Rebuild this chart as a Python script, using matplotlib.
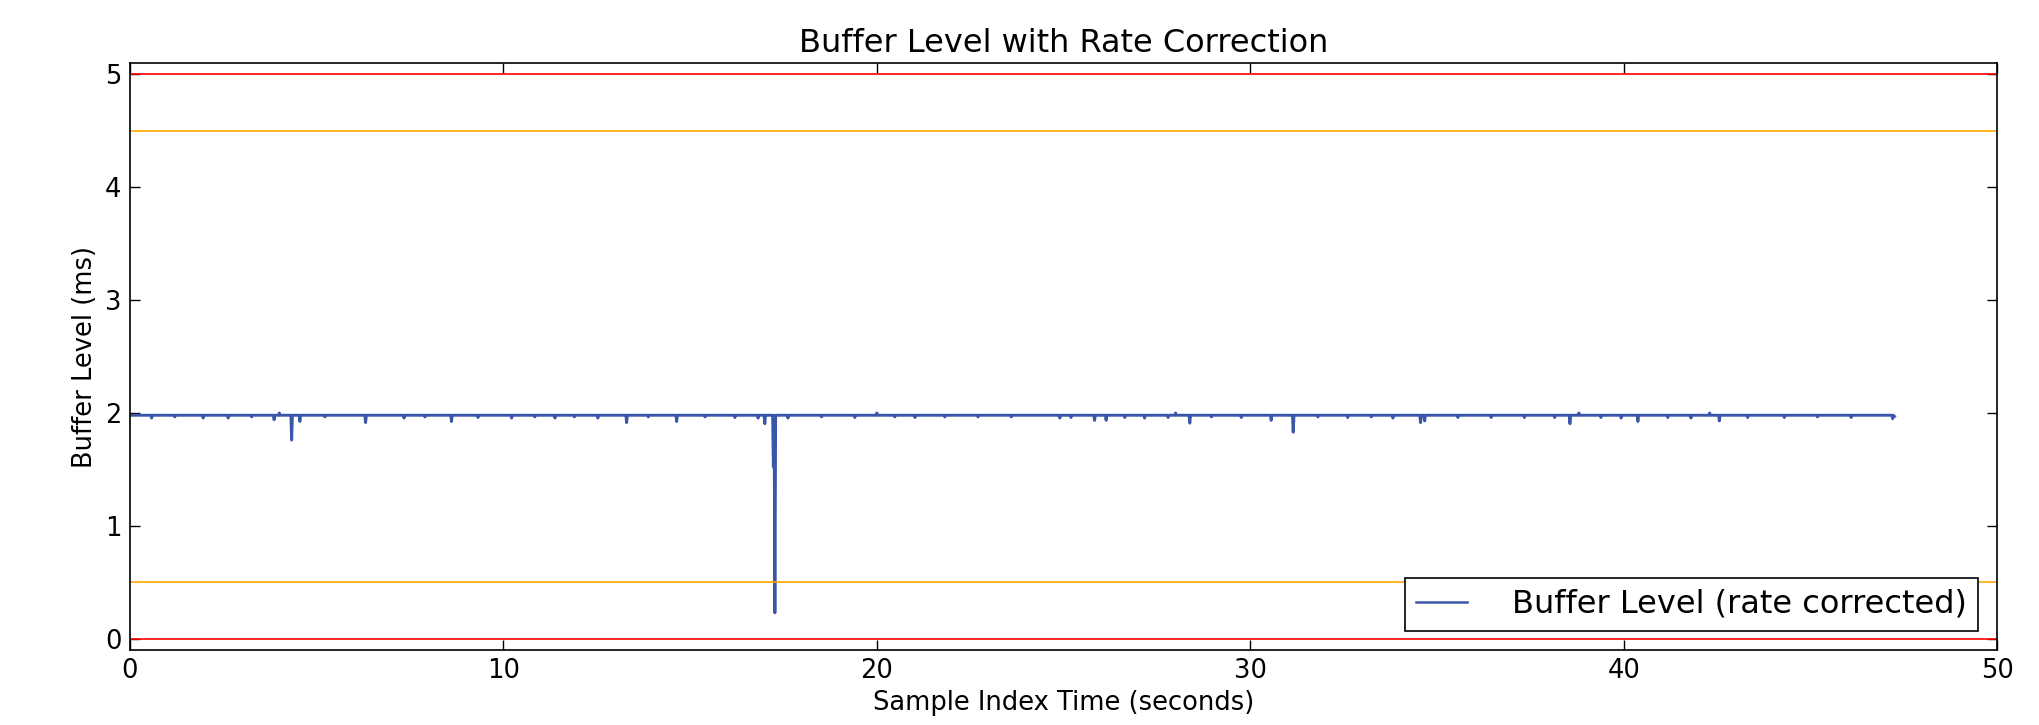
import matplotlib
matplotlib.use('Agg')
import matplotlib.pyplot as plt

# buffer level data (ms)
base_ms = 1.98
t_end = 47.25

# sample times (s) where the level leaves the base level, and the value there
spike_t = [0.58, 1.20, 1.96, 2.63, 3.26, 3.86, 4.00, 4.33, 4.55, 5.22,
           6.31, 7.34, 7.90, 8.61, 9.32, 10.22, 10.84, 11.38, 11.90, 12.53,
           13.30, 13.88, 14.64, 15.40, 16.20, 16.82, 17.00, 17.23, 17.27, 17.62,
           18.52, 19.41, 20.00, 20.48, 21.02, 21.82, 22.71, 23.60, 24.90, 25.20,
           25.83, 26.14, 26.64, 27.17, 27.80, 28.00, 28.38, 28.96, 29.76, 30.56,
           31.15, 31.81, 32.61, 33.24, 33.82, 34.56, 34.67, 35.56, 36.45, 37.34,
           38.15, 38.56, 38.80, 39.39, 39.93, 40.38, 41.18, 41.80, 42.30, 42.56,
           43.32, 44.30, 45.19, 46.09, 47.20]
spike_ms = [1.955, 1.965, 1.955, 1.955, 1.965, 1.94, 2.00, 1.76, 1.925, 1.965,
            1.915, 1.955, 1.965, 1.925, 1.96, 1.955, 1.965, 1.955, 1.965, 1.955,
            1.915, 1.965, 1.925, 1.965, 1.96, 1.955, 1.905, 1.52, 0.23, 1.955,
            1.965, 1.96, 2.00, 1.965, 1.96, 1.965, 1.965, 1.965, 1.955, 1.96,
            1.935, 1.935, 1.96, 1.955, 1.96, 2.00, 1.91, 1.965, 1.96, 1.935,
            1.83, 1.965, 1.96, 1.965, 1.955, 1.915, 1.93, 1.96, 1.96, 1.96,
            1.96, 1.905, 2.00, 1.96, 1.955, 1.925, 1.96, 1.955, 2.00, 1.93,
            1.96, 1.96, 1.965, 1.96, 1.95]

# limits
lim_hi = [5.0, 4.5]
lim_lo = [0.0, 0.5]

# build the sample sequence: base level between the spikes
dt = 0.02
t_pts = [0.0]
y_pts = [base_ms]
for i in range(len(spike_t)):
    t = spike_t[i]
    if t - t_pts[-1] > 1.5 * dt:
        t_pts.append(t - dt)
        y_pts.append(base_ms)
    t_pts.append(t)
    y_pts.append(spike_ms[i])
    nxt = spike_t[i + 1] if i + 1 < len(spike_t) else t_end
    if nxt - t > 1.5 * dt:
        t_pts.append(t + dt)
        y_pts.append(base_ms)
t_pts.append(t_end)
y_pts.append(1.97)

fig = plt.figure(figsize=(20.4, 7.25), dpi=100)
ax = fig.add_axes([0.0637, 0.1034, 0.9153, 0.8096])

ax.plot(t_pts, y_pts, color='#3a56a8', linewidth=2.1,
        label='Buffer Level (rate corrected)')
ax.axhline(lim_hi[0], color='red', linewidth=1.2)
ax.axhline(lim_hi[1], color='orange', linewidth=1.2)
ax.axhline(lim_lo[1], color='orange', linewidth=1.2)
ax.axhline(lim_lo[0], color='red', linewidth=1.2)

ax.set_xlim(0, 50)
ax.set_ylim(-0.1, 5.1)
ax.set_xticks([0, 10, 20, 30, 40, 50])
ax.set_yticks([0, 1, 2, 3, 4, 5])
ax.tick_params(direction='in', length=7, width=1, top=True, right=True,
               labelsize=18.5, pad=6)
for s in ax.spines.values():
    s.set_linewidth(1.2)

ax.set_title('Buffer Level with Rate Correction', fontsize=23, pad=8)
ax.set_xlabel('Sample Index Time (seconds)', fontsize=18.5, labelpad=4)
ax.set_ylabel('Buffer Level (ms)', fontsize=18.5, labelpad=5)

leg = ax.legend(loc='lower right', fontsize=23, fancybox=False,
                framealpha=1, edgecolor='black', handlelength=1.6,
                handletextpad=1.4, borderaxespad=0.6, borderpad=0.35)
leg.get_frame().set_linewidth(1.2)
leg.get_lines()[0].set_linewidth(1.8)

plt.savefig('out.png', dpi=100)
